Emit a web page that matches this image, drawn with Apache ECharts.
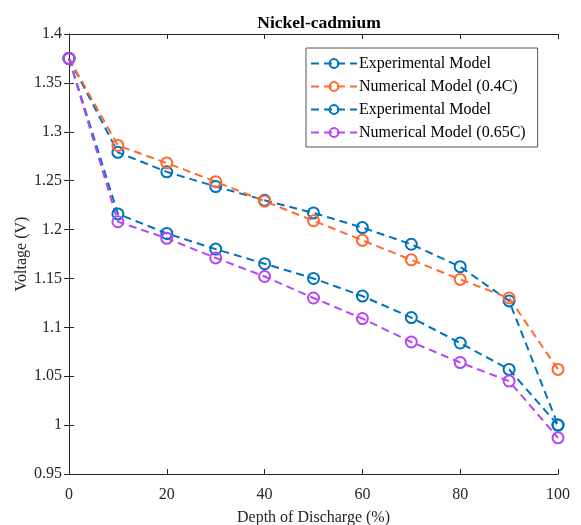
<!DOCTYPE html>
<html>
<head>
<meta charset="utf-8">
<script src="https://cdn.jsdelivr.net/npm/echarts@6/dist/echarts.min.js"></script>
<style>
html,body{margin:0;padding:0;background:#fff;}
#chart{width:581px;height:525px;}
</style>
</head>
<body>
<div id="chart"></div>
<script>
var depth = [0, 10, 20, 30, 40, 50, 60, 70, 80, 90, 100];
var exp04 = [1.375, 1.279, 1.259, 1.244, 1.230, 1.217, 1.202, 1.185, 1.162, 1.127, 1.000];
var num04 = [1.375, 1.286, 1.268, 1.249, 1.229, 1.209, 1.189, 1.169, 1.149, 1.130, 1.057];
var exp065 = [1.375, 1.216, 1.196, 1.180, 1.165, 1.150, 1.132, 1.110, 1.084, 1.057, 1.000];
var num065 = [1.375, 1.208, 1.191, 1.171, 1.152, 1.130, 1.109, 1.085, 1.064, 1.045, 0.987];
var seriesNames = ['Experimental Model', 'Numerical Model (0.4C)', 'Experimental Model ', 'Numerical Model (0.65C)'];
var xTicks = [0, 20, 40, 60, 80, 100];
var yTicks = [0.95, 1, 1.05, 1.1, 1.15, 1.2, 1.25, 1.3, 1.35, 1.4];

var colors = ['#0072BD', '#FF6B2E', '#0072BD', '#B446F8'];
var FONT = 'Liberation Serif';
var AX = '#262626';

function pairs(arr) { return depth.map(function (d, i) { return [d, arr[i]]; }); }
function mkSeries(name, arr, color) {
  return {
    name: name, type: 'line', data: pairs(arr),
    symbol: 'circle', symbolSize: 11,
    itemStyle: { color: 'rgba(255,255,255,0)', borderColor: color, borderWidth: 2 },
    lineStyle: { color: color, width: 2, type: [8, 5] },
    emphasis: { disabled: true },
    animation: false
  };
}
function yLabel(v) {
  for (var i = 0; i < yTicks.length; i++) {
    if (Math.abs(yTicks[i] - v) < 1e-6) return String(yTicks[i]);
  }
  return '';
}

var chart = echarts.init(document.getElementById('chart'), null, { renderer: 'canvas' });
chart.setOption({
  backgroundColor: '#fff',
  animation: false,
  title: {
    text: 'Nickel-cadmium', left: 314, top: 9, textAlign: 'center',
    textStyle: { fontFamily: FONT, fontSize: 17.5, fontWeight: 'bold', color: '#000' }
  },
  legend: {
    data: seriesNames,
    orient: 'vertical',
    left: 306, top: 48,
    padding: [7, 12, 6, 4],
    itemGap: 6,
    itemWidth: 46, itemHeight: 11,
    itemStyle: { borderWidth: 2 },
    backgroundColor: '#fff',
    borderColor: '#555', borderWidth: 1,
    textStyle: { fontFamily: FONT, fontSize: 16, lineHeight: 17, color: '#000', padding: [0, 0, 0, -3] },
    selectedMode: false
  },
  grid: { left: 69, right: 23, top: 34, bottom: 51, containLabel: false, outerBoundsMode: 'none' },
  xAxis: [{
    type: 'value', min: 0, max: 100, interval: 20, position: 'bottom',
    name: 'Depth of Discharge (%)', nameLocation: 'middle', nameGap: 36,
    nameMoveOverlap: false,
    nameTextStyle: { fontFamily: FONT, fontSize: 16, color: AX },
    axisLine: { show: true, lineStyle: { color: AX, width: 1 } },
    axisTick: { show: true, inside: true, length: 5, lineStyle: { color: AX } },
    axisLabel: { fontFamily: FONT, fontSize: 16, color: AX, margin: 13 },
    splitLine: { show: false }
  }, {
    type: 'value', min: 0, max: 100, interval: 20, position: 'top',
    axisLine: { show: true, lineStyle: { color: AX, width: 1 } },
    axisTick: { show: true, inside: true, length: 5, lineStyle: { color: AX } },
    axisLabel: { show: false },
    splitLine: { show: false }
  }],
  yAxis: [{
    type: 'value', min: 0.95, max: 1.4, interval: 0.05, position: 'left',
    name: 'Voltage (V)', nameLocation: 'middle', nameGap: 39, nameRotate: 90,
    nameMoveOverlap: false,
    nameTextStyle: { fontFamily: FONT, fontSize: 16, color: AX },
    axisLine: { show: true, lineStyle: { color: AX, width: 1 } },
    axisTick: { show: true, inside: true, length: 5, lineStyle: { color: AX } },
    axisLabel: { fontFamily: FONT, fontSize: 16, color: AX, margin: 7, formatter: yLabel },
    splitLine: { show: false }
  }, {
    type: 'value', min: 0.95, max: 1.4, interval: 0.05, position: 'right',
    axisLine: { show: true, lineStyle: { color: AX, width: 1 } },
    axisTick: { show: true, inside: true, length: 5, lineStyle: { color: AX } },
    axisLabel: { show: false },
    splitLine: { show: false }
  }],
  series: [
    mkSeries(seriesNames[0], exp04, colors[0]),
    mkSeries(seriesNames[1], num04, colors[1]),
    mkSeries(seriesNames[2], exp065, colors[2]),
    mkSeries(seriesNames[3], num065, colors[3])
  ]
});
</script>
</body>
</html>
